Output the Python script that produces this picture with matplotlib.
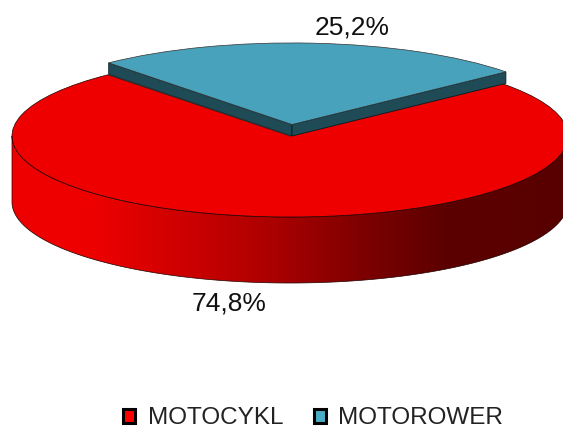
import matplotlib
matplotlib.use("Agg")
import matplotlib.pyplot as plt
import matplotlib.patches as mpatches
from matplotlib.colors import LinearSegmentedColormap
import numpy as np

plt.rcParams['font.family'] = ['Liberation Sans', 'DejaVu Sans']

categories = ['MOTOCYKL', 'MOTOROWER']
shares = [74.8, 25.2]
share_labels = ['74,8%', '25,2%']
top_colors = ['#ee0000', '#48a2bb']
legend_colors = ['#ff0000', '#4bacc6']

# pixel geometry of the ellipse, one data unit = the radius
W, H = 563, 430
cx, cy, rx, ry = 290, 136, 278, 81
depth = 66 / ry
lift = 11.5 / ry
shift = 2 / rx
blue_r = 1.007
start = 130.9

fig = plt.figure(figsize=(W / 100, H / 100), dpi=100)
ax = fig.add_axes([0, 0, 1, 1])

wedges, _ = ax.pie(shares, startangle=start, colors=top_colors, radius=1,
                   wedgeprops={'edgecolor': '#200000', 'linewidth': 0.5})
for w in wedges:
    w.set_zorder(3)
wedges[1].set_center((shift, lift))
wedges[1].set_radius(blue_r)
wedges[1].set_edgecolor('#333333')
wedges[1].set_zorder(6)

ax.set_aspect('auto')
ax.set_axis_off()

# side of the red disc, shaded left to right
t = np.radians(np.linspace(180, 360, 200))
side_x = np.concatenate([np.cos(t), np.cos(t[::-1])])
side_y = np.concatenate([np.sin(t), np.sin(t[::-1]) - depth])
side = mpatches.Polygon(np.column_stack([side_x, side_y]), closed=True,
                        facecolor='none', edgecolor='#200000', linewidth=0.5, zorder=2)
ax.add_patch(side)
shade = LinearSegmentedColormap.from_list('side', [(0, '#ee0000'), (0.14, '#ee0000'),
                                                   (0.335, '#c80000'), (0.48, '#a80000'),
                                                   (0.62, '#800000'), (0.78, '#5c0000'),
                                                   (1, '#580000')])
img = ax.imshow(np.linspace(0, 1, 256).reshape(1, -1), cmap=shade, aspect='auto',
                extent=(-1, 1, -2, 0.2), zorder=1)
img.set_clip_path(side)
ax.set_xlim(-cx / rx, (W - cx) / rx)
ax.set_ylim((cy - H) / ry, cy / ry)

# cut faces of the lifted blue slice
a1 = np.radians(start)
a2 = np.radians(start - 360 * shares[1] / 100)
for a in [a1, a2]:
    ex, ey = shift + blue_r * np.cos(a), blue_r * np.sin(a) + lift
    ax.fill([shift, ex, ex, shift], [lift, ey, ey - lift, 0], facecolor='#1f4b57',
            edgecolor='#0c1c20', linewidth=0.6, zorder=5)

# value labels
fig.text(352 / W, 1 - 27 / H, share_labels[1], fontsize=19, ha='center', va='center', color='#111111')
fig.text(229.5 / W, 1 - 304 / H, share_labels[0], fontsize=19, ha='center', va='center', color='#111111')

handles = [mpatches.Patch(facecolor=c, edgecolor='black', linewidth=2.2) for c in legend_colors]
fig.legend(handles, categories, loc='center', bbox_to_anchor=(313 / W, 1 - 418.5 / H), ncol=2,
           frameon=False, fontsize=17.5, handlelength=0.5, handleheight=0.5,
           handletextpad=0.5, columnspacing=1.25, labelcolor='#222222')

fig.savefig('out.png', dpi=100)
